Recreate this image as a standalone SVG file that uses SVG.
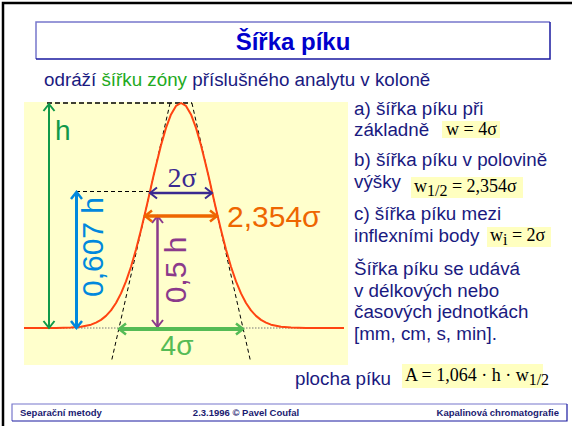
<svg xmlns="http://www.w3.org/2000/svg" width="572" height="426" viewBox="0 0 572 426">
<style>
.sans{font-family:"Liberation Sans",Arial,sans-serif}
.serif{font-family:"Liberation Serif","Times New Roman",serif}
.txt{font-family:"Liberation Sans",Arial,sans-serif;font-size:18.8px;fill:#1a1a80}
.frm{font-family:"Liberation Serif","Times New Roman",serif;font-size:18px;fill:#000}
.fbox{fill:#ffffc0}
.foot{font-family:"Liberation Sans",Arial,sans-serif;font-size:9.5px;font-weight:bold;fill:#1a1a70}
.dash{fill:none;stroke:#000;stroke-width:1;stroke-dasharray:4,3}
</style>
<defs>
<marker id="mg" viewBox="-10 -8 12 16" refX="0" refY="0" markerWidth="12" markerHeight="16" markerUnits="userSpaceOnUse" orient="auto-start-reverse"><path d="M-7,-5.5 L0,0 L-7,5.5" fill="none" stroke="#10994a" stroke-width="2"/></marker>
<marker id="mb" viewBox="-10 -8 12 16" refX="0" refY="0" markerWidth="12" markerHeight="16" markerUnits="userSpaceOnUse" orient="auto-start-reverse"><path d="M-7,-5.5 L0,0 L-7,5.5" fill="none" stroke="#0088dd" stroke-width="2.5"/></marker>
<marker id="mp" viewBox="-10 -8 12 16" refX="0" refY="0" markerWidth="12" markerHeight="16" markerUnits="userSpaceOnUse" orient="auto-start-reverse"><path d="M-7,-5.5 L0,0 L-7,5.5" fill="none" stroke="#8b3a8b" stroke-width="2"/></marker>
<marker id="mi" viewBox="-10 -8 12 16" refX="0" refY="0" markerWidth="12" markerHeight="16" markerUnits="userSpaceOnUse" orient="auto-start-reverse"><path d="M-7,-5.5 L0,0 L-7,5.5" fill="none" stroke="#3a2a90" stroke-width="2"/></marker>
<marker id="mo" viewBox="-10 -8 12 16" refX="0" refY="0" markerWidth="12" markerHeight="16" markerUnits="userSpaceOnUse" orient="auto-start-reverse"><path d="M-7,-5.5 L0,0 L-7,5.5" fill="none" stroke="#ee6600" stroke-width="2.5"/></marker>
<marker id="ml" viewBox="-10 -8 12 16" refX="0" refY="0" markerWidth="12" markerHeight="16" markerUnits="userSpaceOnUse" orient="auto-start-reverse"><path d="M-7,-5.5 L0,0 L-7,5.5" fill="none" stroke="#55bb55" stroke-width="2.5"/></marker>
</defs>
<rect width="572" height="426" fill="#fff"/>
<path d="M3,426 L3,3 L572,3" fill="none" stroke="#000" stroke-width="2.5"/>

<g id="title">
<path d="M36,59 L36,22 L550,22" fill="none" stroke="#7777cc" stroke-width="1.5"/>
<path d="M36,59 L550,59 L550,22" fill="none" stroke="#1a1aa0" stroke-width="1.5"/>
<text x="293" y="50" text-anchor="middle" class="sans" font-size="24" font-weight="bold" fill="#0000cc">Šířka píku</text>
</g>

<g id="subtitle">
<text x="44" y="86" class="txt" font-size="17.3">odráží <tspan fill="#22aa22">šířku zóny</tspan> příslušného analytu v koloně</text>
</g>

<g id="plot">
<rect x="24" y="102" width="324" height="263" fill="#ffffcc"/>
<line x1="24" y1="328" x2="345" y2="328" stroke="#777" stroke-width="1" stroke-dasharray="1.5,1.5"/>
<path d="M47,103 L192,103" fill="none" stroke="#000" stroke-width="1.5" stroke-dasharray="5,3"/>
<path d="M76,191.5 L150,191.5" class="dash"/>
<path d="M170.1,103 L111.3,362 M191.9,103 L250.7,362" class="dash"/>
<path d="M24,328 L56,328 L71,327.6 L81,326.8 L91,324.7 L96,322.6 L101,319.9 L106,315.9 L111,310.4 L116,303 L121,293.4 L126,281.4 L131,266.7 L136,249.5 L141,230.1 L146,209 L150,191.5 L153,178 L156,165.5 L161,145.3 L166,127.9 L171,114.4 L176,105.9 L181,103 L186,105.9 L191,114.4 L196,127.9 L201,145.3 L206,165.5 L209,178 L212,191.5 L216,209 L221,230.1 L226,249.5 L231,266.7 L236,281.4 L241,293.4 L246,303 L251,310.4 L256,315.9 L261,319.9 L266,322.6 L271,324.7 L281,326.8 L291,327.6 L306,328 L344,328" fill="none" stroke="#ff4411" stroke-width="2" stroke-linejoin="round"/>
</g>

<g id="connectors">
<line x1="49" y1="328" x2="49" y2="104" stroke="#10994a" stroke-width="2" marker-start="url(#mg)" marker-end="url(#mg)"/>
<line x1="76.5" y1="328" x2="76.5" y2="192" stroke="#0088dd" stroke-width="3" marker-start="url(#mb)" marker-end="url(#mb)"/>
<line x1="157.5" y1="327" x2="157.5" y2="216" stroke="#8b3a8b" stroke-width="2.5" marker-start="url(#mp)" marker-end="url(#mp)"/>
<line x1="150" y1="193" x2="212" y2="193" stroke="#3a2a90" stroke-width="2.5" marker-start="url(#mi)" marker-end="url(#mi)"/>
<line x1="145" y1="216" x2="217" y2="216" stroke="#ee6600" stroke-width="3.5" marker-start="url(#mo)" marker-end="url(#mo)"/>
<line x1="119" y1="329" x2="243" y2="329" stroke="#55bb55" stroke-width="4" marker-start="url(#ml)" marker-end="url(#ml)"/>
</g>

<g id="labels">
<text x="55" y="140" class="sans" font-size="28" fill="#10994a">h</text>
<text transform="translate(103,247) rotate(-90)" text-anchor="middle" class="sans" font-size="30" fill="#0088dd">0,607 h</text>
<text transform="translate(186,270) rotate(-90)" text-anchor="middle" class="sans" font-size="30" fill="#8b3a8b">0,5 h</text>
<text x="182" y="187" text-anchor="middle" class="serif" font-size="28" fill="#3a2a90">2σ</text>
<text x="227" y="227" class="sans" font-size="30" fill="#ee6600">2,354σ</text>
<text x="177" y="355" text-anchor="middle" class="sans" font-size="28" fill="#55bb55">4σ</text>
</g>

<g id="desc-a">
<text x="354" y="115" class="txt">a) šířka píku při</text>
<text x="354" y="136" class="txt">základně</text>
<rect x="442" y="121" width="58" height="17" class="fbox"/>
<text x="446" y="135" class="frm">w = 4σ</text>
</g>

<g id="desc-b">
<text x="354" y="166" class="txt">b) šířka píku v polovině</text>
<text x="354" y="188" class="txt">výšky</text>
<rect x="411" y="177" width="112" height="21" class="fbox"/>
<text x="414" y="192" class="frm">w<tspan dy="4" font-size="16">1/2</tspan><tspan dy="-4"> = 2,354σ</tspan></text>
</g>

<g id="desc-c">
<text x="354" y="220" class="txt">c) šířka píku mezi</text>
<text x="354" y="242" class="txt">inflexními body</text>
<rect x="487" y="227" width="64" height="20" class="fbox"/>
<text x="490" y="241" class="frm">w<tspan dy="4" font-size="16">i</tspan><tspan dy="-4"> = 2σ</tspan></text>
</g>

<g id="desc-units">
<text x="354" y="275" class="txt">Šířka píku se udává</text>
<text x="354" y="297" class="txt">v délkových nebo</text>
<text x="354" y="318" class="txt">časových jednotkách</text>
<text x="354" y="340" class="txt">[mm, cm, s, min].</text>
</g>

<g id="area">
<text x="295" y="385" class="txt">plocha píku</text>
<rect x="402" y="364" width="141" height="24" class="fbox"/>
<text x="405" y="381" class="frm">A = 1,064 · h · w<tspan dy="4" font-size="16">1/2</tspan></text>
</g>

<g id="footer">
<path d="M12,421 L12,404 L567,404" fill="none" stroke="#7777cc" stroke-width="1.2"/>
<path d="M12,421 L567,421 L567,404" fill="none" stroke="#1a1aa0" stroke-width="1.2"/>
<text x="20" y="416" class="foot">Separační metody</text>
<text x="246" y="416" text-anchor="middle" class="foot">2.3.1996 © Pavel Coufal</text>
<text x="559" y="416" text-anchor="end" class="foot">Kapalinová chromatografie</text>
</g>
</svg>
